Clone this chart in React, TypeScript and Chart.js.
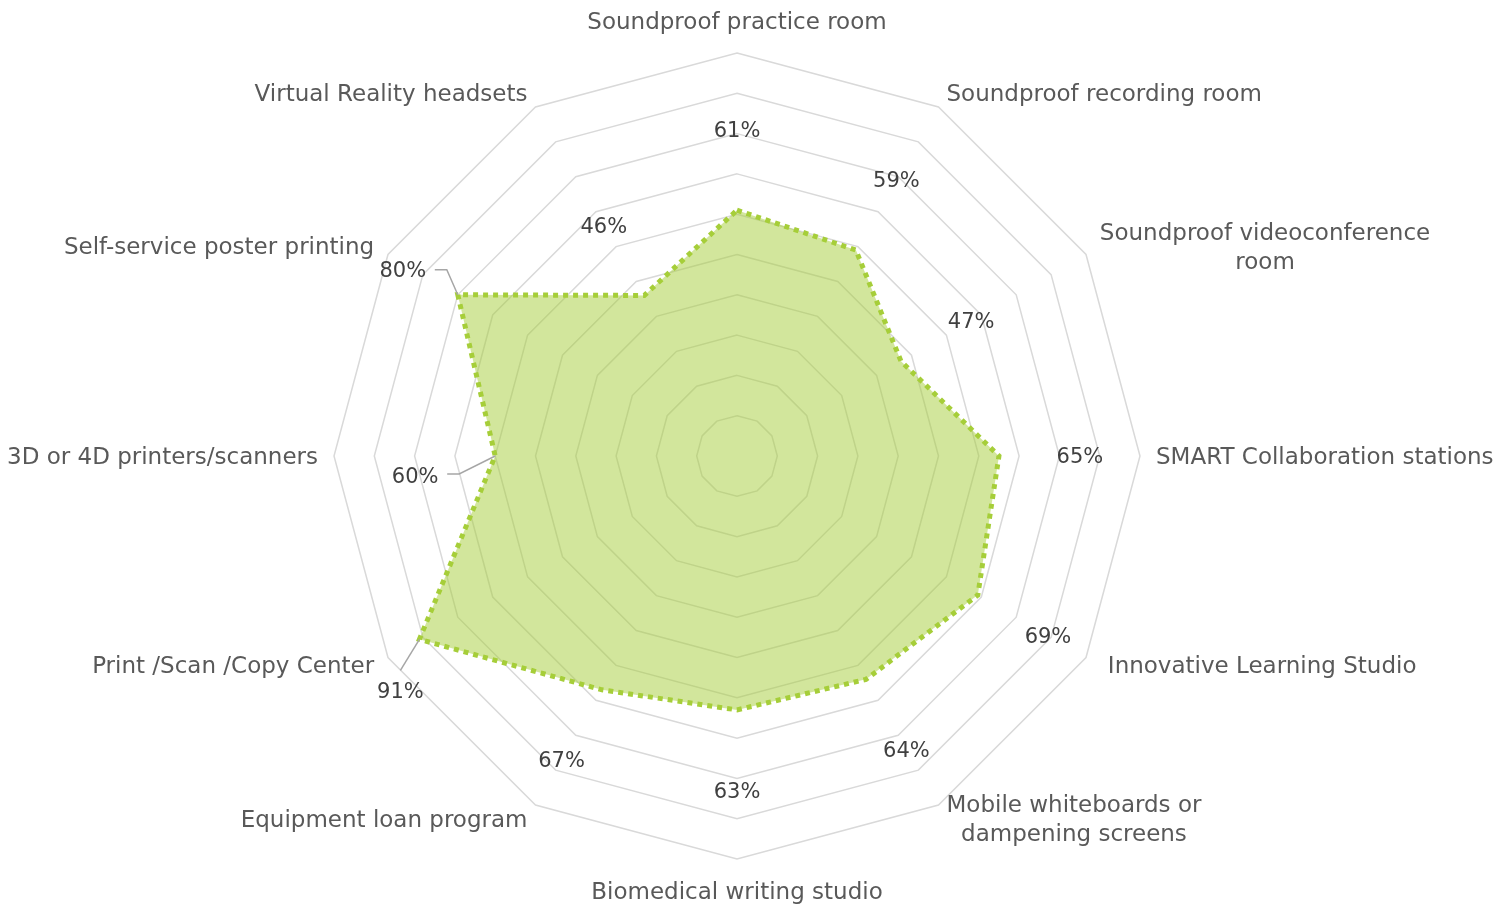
import React, { useEffect, useRef } from 'react';
import { Chart, registerables } from 'chart.js';

Chart.register(...registerables);

// ---- data ----
const categories: string[][] = [
  ['Soundproof practice room'],
  ['Soundproof recording room'],
  ['Soundproof videoconference', 'room'],
  ['SMART Collaboration stations'],
  ['Innovative Learning Studio'],
  ['Mobile whiteboards or', 'dampening screens'],
  ['Biomedical writing studio'],
  ['Equipment loan program'],
  ['Print /Scan /Copy Center'],
  ['3D or 4D printers/scanners'],
  ['Self-service poster printing'],
  ['Virtual Reality headsets'],
];
const values = [61, 59, 47, 65, 69, 64, 63, 67, 91, 60, 80, 46];
const scaleMin = 0;
const scaleMax = 100;
const scaleStep = 10;

// ---- styles ----
const FONT = '"DejaVu Sans", sans-serif';
const CAT_FONT_SIZE = 23;
const VAL_FONT_SIZE = 21;
const CAT_COLOR = '#595959';
const VAL_COLOR = '#404040';
const LEADER_COLOR = '#a6a6a6';
const TEXT_DY = 2;

// label placement tweaks (pixels), keyed by category index
const catNudgeX: Record<number, number> = { 4: 8 };
// value labels with leader lines: label centre offset and leader path relative to the point
const valueLabelOverrides: Record<number, { dx: number; dy: number; leader: [number, number][] }> = {
  8: { dx: -19, dy: 51, leader: [[0, 0], [-19, 31]] },
  9: { dx: -80, dy: 20, leader: [[0, 0], [-36, 18], [-48, 18]] },
  10: { dx: -55, dy: -25, leader: [[0, 0], [-11, -25], [-23, -25]] },
};

const categoryLabelPlugin = {
  id: 'categoryLabels',
  afterDraw(chart: any) {
    const scale = chart.scales.r;
    const ctx = chart.ctx;
    ctx.save();
    ctx.font = `${CAT_FONT_SIZE}px ${FONT}`;
    ctx.fillStyle = CAT_COLOR;
    ctx.textBaseline = 'middle';
    const lineH = 29;
    categories.forEach((lines, i) => {
      const a = scale.getIndexAngle(i);
      const s = Math.sin(a);
      const vertical = Math.abs(s) < 0.01;
      const pad = vertical ? 32 : 16;
      const p = scale.getPointPosition(i, scale.drawingArea + pad);
      const x = p.x + (catNudgeX[i] || 0);
      const maxW = Math.max(...lines.map((l) => ctx.measureText(l).width));
      let cx: number;
      if (vertical) cx = x;
      else if (s > 0) cx = x + maxW / 2;
      else cx = x - maxW / 2;
      const y0 = p.y + TEXT_DY - ((lines.length - 1) * lineH) / 2;
      ctx.textAlign = 'center';
      lines.forEach((l, k) => ctx.fillText(l, cx, y0 + k * lineH));
    });
    ctx.restore();
  },
};

const valueLabelPlugin = {
  id: 'valueLabels',
  afterDatasetsDraw(chart: any) {
    const scale = chart.scales.r;
    const ctx = chart.ctx;
    ctx.save();
    ctx.font = `${VAL_FONT_SIZE}px ${FONT}`;
    ctx.fillStyle = VAL_COLOR;
    ctx.textAlign = 'center';
    ctx.textBaseline = 'middle';
    values.forEach((v, i) => {
      const pt = scale.getPointPosition(i, scale.getDistanceFromCenterForValue(v));
      const ov = valueLabelOverrides[i];
      let lx: number, ly: number;
      if (ov) {
        ctx.strokeStyle = LEADER_COLOR;
        ctx.lineWidth = 1.5;
        ctx.beginPath();
        ov.leader.forEach(([dx, dy], k) => {
          if (k === 0) ctx.moveTo(pt.x + dx, pt.y + dy);
          else ctx.lineTo(pt.x + dx, pt.y + dy);
        });
        ctx.stroke();
        lx = pt.x + ov.dx;
        ly = pt.y + ov.dy;
      } else {
        const lp = scale.getPointPosition(i, scale.getDistanceFromCenterForValue(v) + 81);
        lx = lp.x;
        ly = lp.y;
      }
      ctx.fillText(`${v}%`, lx, ly + TEXT_DY);
    });
    ctx.restore();
  },
};

export default function App() {
  const ref = useRef<HTMLCanvasElement>(null);
  useEffect(() => {
    if (!ref.current) return;
    const chart = new Chart(ref.current, {
      type: 'radar',
      data: {
        labels: categories.map((c) => c.join(' ')),
        datasets: [
          {
            data: values,
            borderColor: '#a6ce39',
            borderWidth: 5,
            borderDash: [5, 5],
            backgroundColor: 'rgba(166, 206, 57, 0.5)',
            fill: true,
            pointRadius: 0,
            pointHoverRadius: 0,
            tension: 0,
          },
        ],
      },
      options: {
        responsive: false,
        devicePixelRatio: 1,
        animation: false,
        layout: { padding: { left: 334, right: 359, top: 53, bottom: 46 } },
        plugins: { legend: { display: false }, tooltip: { enabled: false } },
        scales: {
          r: {
            min: scaleMin,
            max: scaleMax,
            ticks: { display: false, stepSize: scaleStep },
            pointLabels: { display: false },
            angleLines: { display: false },
            grid: { color: '#d9d9d9', lineWidth: 1.5 },
          },
        },
      },
      plugins: [categoryLabelPlugin, valueLabelPlugin],
    });
    return () => chart.destroy();
  }, []);
  return (
    <div style={{ position: 'absolute', left: 0, top: 0, width: 1499, height: 905, background: '#fff' }}>
      <canvas ref={ref} width={1499} height={905} style={{ display: 'block' }} />
    </div>
  );
}
